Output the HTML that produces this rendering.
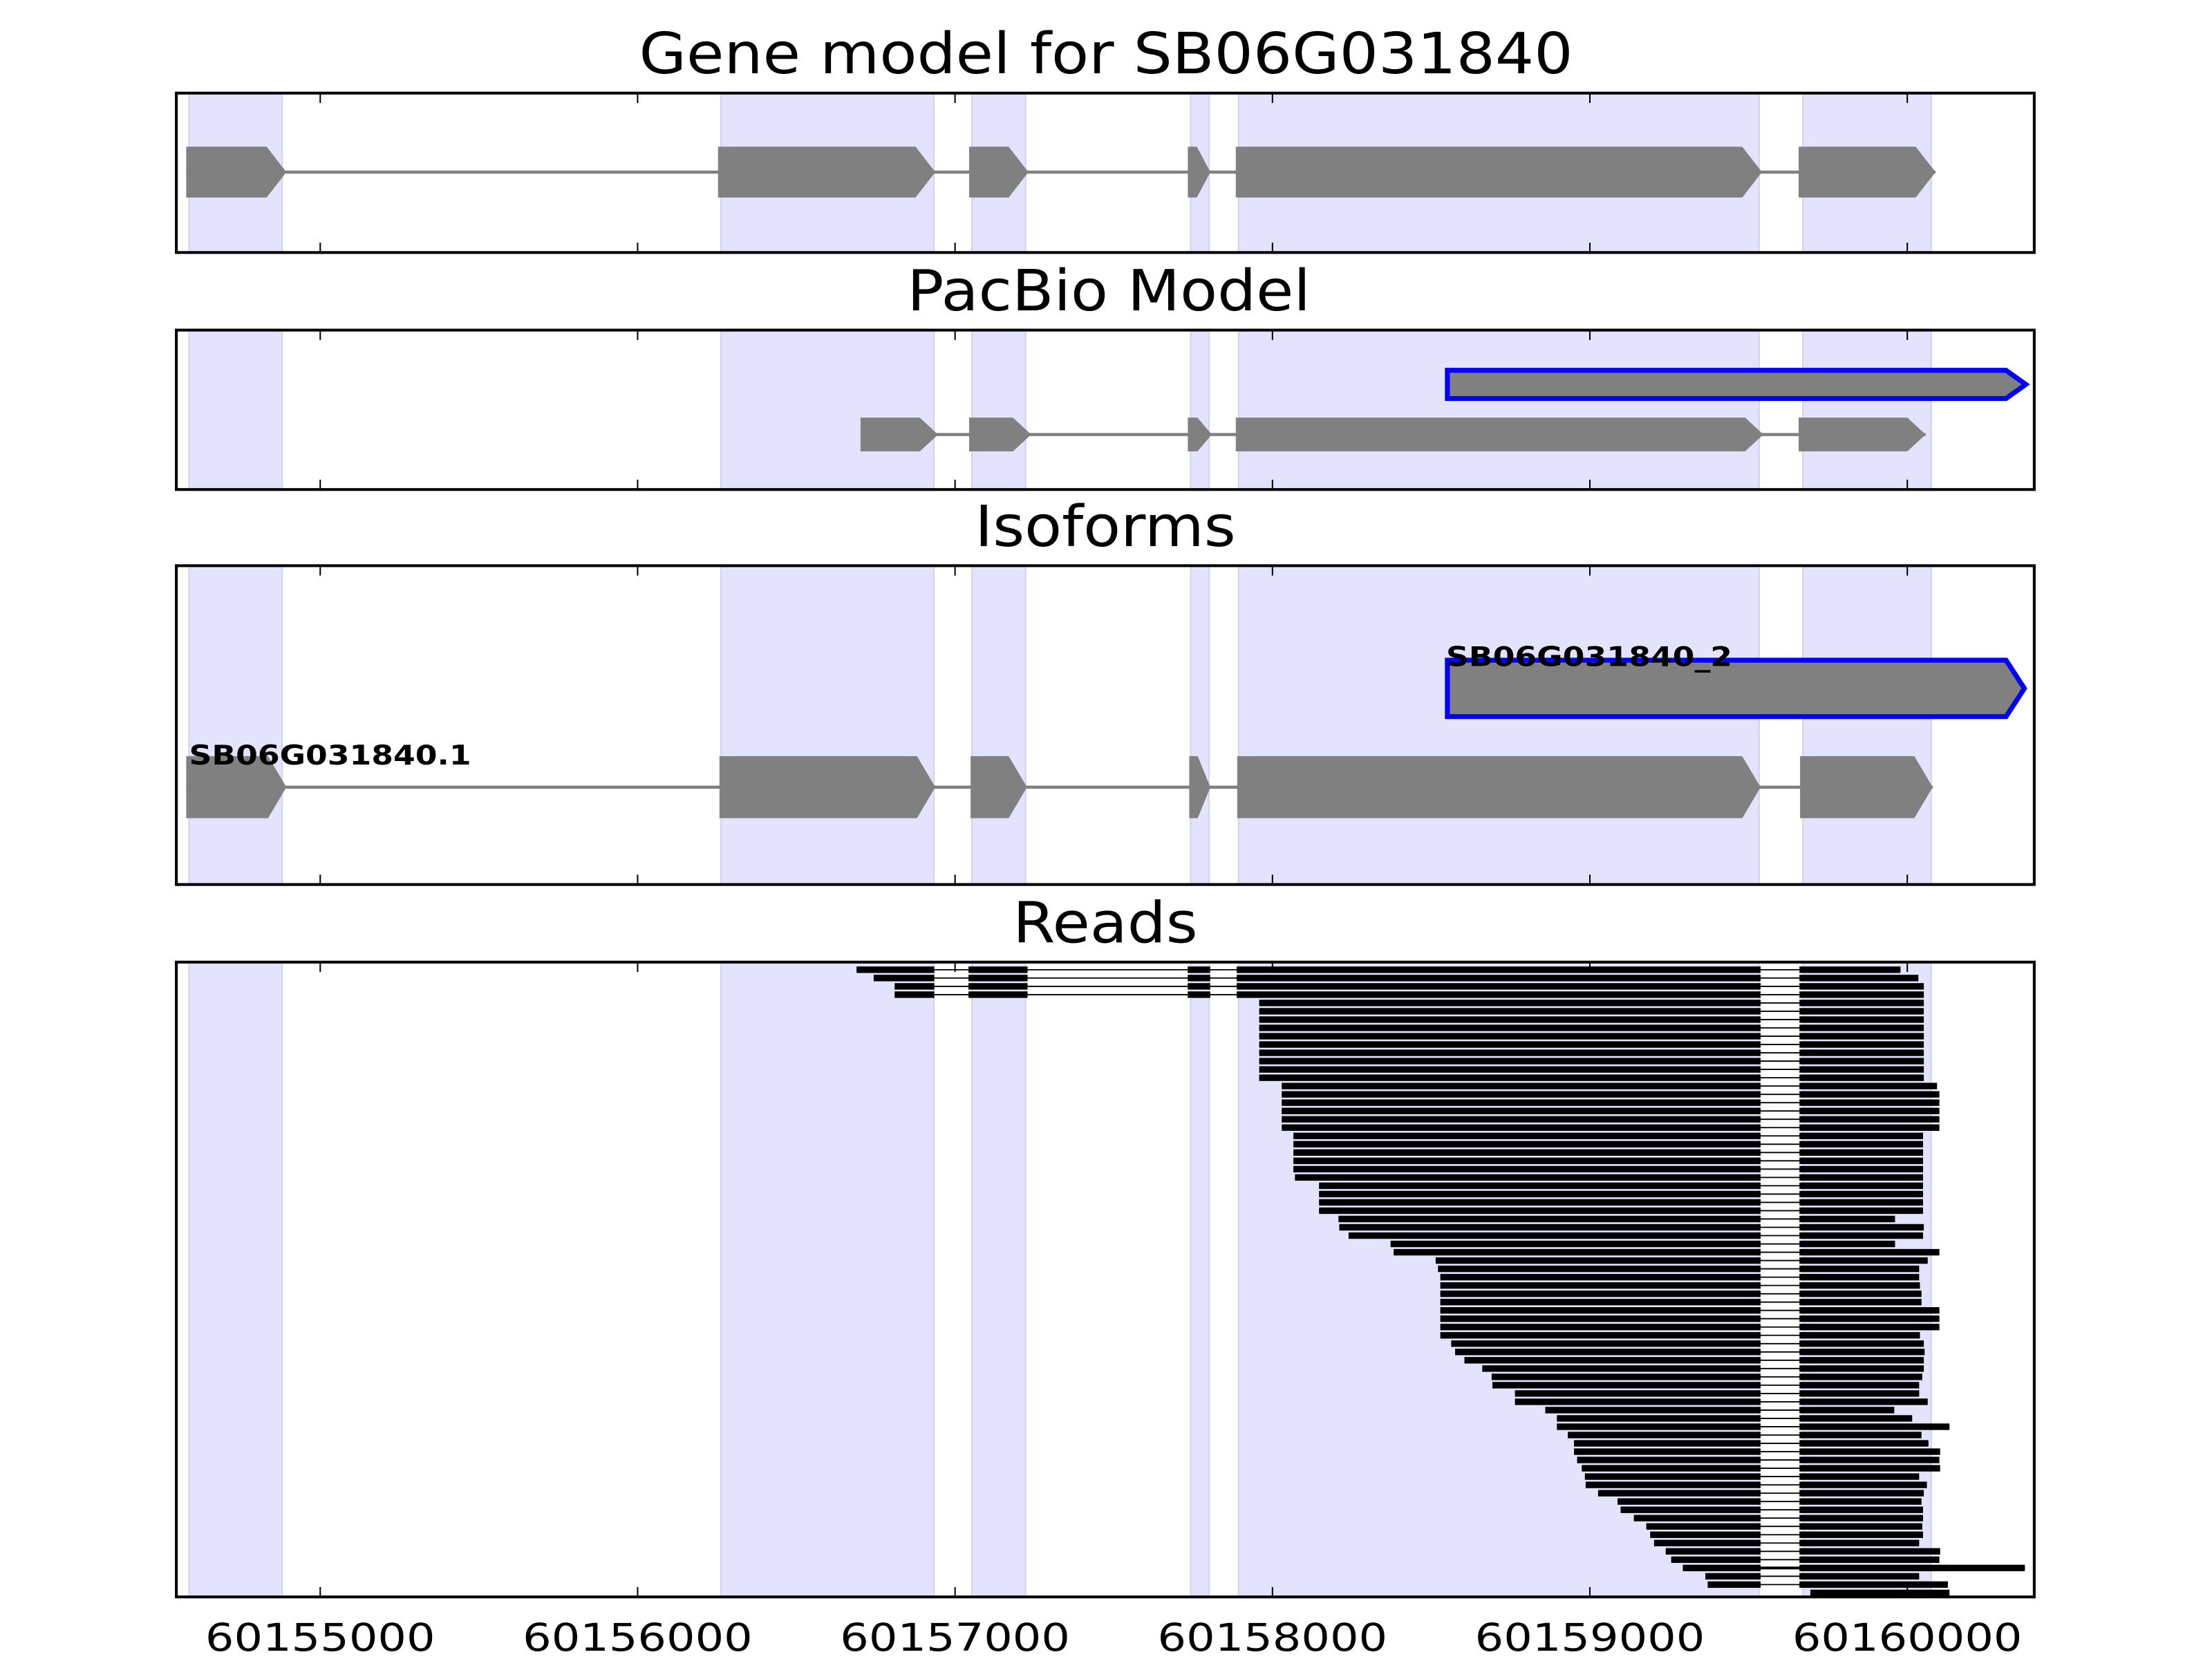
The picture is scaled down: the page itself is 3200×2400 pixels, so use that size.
<!DOCTYPE html>
<html><head><meta charset="utf-8"><style>
html,body{margin:0;padding:0;background:#fff;}
svg{display:block;}
text{font-family:"DejaVu Sans","Liberation Sans",sans-serif;}
</style></head><body>
<svg id="s" xmlns="http://www.w3.org/2000/svg" width="3200" height="2400" viewBox="0 0 1568 1176">
<rect width="1568" height="1176" fill="#fff"/>
<g id="g"></g>
<text x="784" y="52" font-size="40" text-anchor="middle" textLength="662" lengthAdjust="spacingAndGlyphs">Gene model for SB06G031840</text>
<text x="786" y="220" font-size="40" text-anchor="middle" textLength="286" lengthAdjust="spacingAndGlyphs">PacBio Model</text>
<text x="783.5" y="387" font-size="40" text-anchor="middle" textLength="185" lengthAdjust="spacingAndGlyphs">Isoforms</text>
<text x="783.5" y="668" font-size="40" text-anchor="middle" textLength="131" lengthAdjust="spacingAndGlyphs">Reads</text>
<text x="1025" y="472" font-size="19" font-weight="bold" textLength="203" lengthAdjust="spacingAndGlyphs">SB06G031840_2</text>
<text x="134" y="542" font-size="19" font-weight="bold" textLength="200" lengthAdjust="spacingAndGlyphs">SB06G031840.1</text>
</svg>
<script>
var NS="http://www.w3.org/2000/svg",G=document.getElementById('g');
function el(t,a){var e=document.createElementNS(NS,t);for(var k in a)e.setAttribute(k,a[k]);G.appendChild(e);return e;}
var panels=[[66,179],[234,347],[401,627],[682,1132]];
var L=125,R=1442;
var bands=[[134,200],[511,662],[689,727],[844,857],[878,1247],[1278,1369]];
panels.forEach(function(p){
  bands.forEach(function(b){el('rect',{x:b[0],y:p[0],width:b[1]-b[0],height:p[1]-p[0],fill:'#e3e3fd',stroke:'#d2d2ee','stroke-width':1});});
});
function arrow(x1,x2,yc,h,tip,fill,stroke,sw){
  var t=Math.min(tip,(x2-x1)*0.6);
  var pts=[[x1,yc-h/2],[x2-t,yc-h/2],[x2,yc],[x2-t,yc+h/2],[x1,yc+h/2]].map(function(q){return q.join(',')}).join(' ');
  var a={points:pts,fill:fill};
  if(stroke){a.stroke=stroke;a['stroke-width']=sw;}
  el('polygon',a);
}
function gene(ex,yc,h,tip){
  el('line',{x1:ex[0][0],x2:ex[ex.length-1][1],y1:yc,y2:yc,stroke:'#808080','stroke-width':2.2});
  ex.forEach(function(e){arrow(e[0],e[1],yc,h,tip,'#808080');});
}
gene([[132,203],[509,663],[687,729],[842,858],[876,1249],[1275,1372]],122,36,14);
arrow(1026,1436,272.5,20,14,'#808080','#0000ff',3.5);
gene([[610,665],[687,731],[842,859],[876,1250],[1275,1365]],308,24,13);
arrow(1026,1435,488,40,13,'#808080','#0000ff',3.5);
gene([[132,203],[510,663],[688,728],[843,858],[877,1248],[1276,1370]],558,44,13);
function p(z){return 586.8+z*0.551;}
var rows=[[37,1380,1],[59,1403,1],[86,1410,1],[86,1410,1]];
for(var i=0;i<10;i++)rows.push([555,1410]);
rows.push([584,1427]);for(i=0;i<5;i++)rows.push([584,1430]);
for(i=0;i<5;i++)rows.push([599,1409]);rows.push([601,1409]);
for(i=0;i<4;i++)rows.push([632,1409]);
rows=rows.concat([[657,1373],[658,1410],[670,1409],[724,1373],[728,1430],[782,1415],[785,1404],[788,1404],[788,1405],[788,1407],[788,1407],[788,1430],[788,1430],[788,1430],[788,1405],[802,1410],[807,1411],[819,1410],[842,1410],[854,1408],[855,1404],[884,1404],[884,1415],[923,1372],[938,1395],[938,1443],[952,1407],[960,1416],[960,1431],[964,1430],[970,1431],[974,1404],[975,1414],[991,1410],[1016,1407],[1020,1409],[1037,1409],[1053,1408],[1058,1409],[1063,1404],[1078,1431],[1085,1430],[1100,1540,2],[1129,1404],[1132,1441],[1264,1443]]);
var gap1=p(1200),gap2=p(1250);
rows.forEach(function(r,i){
  var y=687.4+i*5.89,h=4.6,s=p(r[0]),e=p(r[1]);
  function bar(a,b){if(b>a)el('rect',{x:a,y:y-h/2,width:b-a,height:h,fill:'#000'});}
  if(r[2]!==2 && s<gap1) el('line',{x1:s,x2:e,y1:y,y2:y,stroke:'#000','stroke-width':0.9});
  if(r[2]===2){bar(s,gap1);el('rect',{x:gap1,y:y-1,width:e-gap1,height:2,fill:'#000'});bar(gap2,p(1443));bar(p(1443),e);return;}
  if(r[2]===1){
    bar(s,p(137));bar(p(181),p(257));bar(p(463),p(492));bar(p(526),gap1);bar(gap2,e);
  } else {
    if(s<gap1){bar(s,gap1);bar(gap2,e);} else bar(s,e);
  }
});
var ticks=[227,452,677,902,1127,1352],labs=['60155000','60156000','60157000','60158000','60159000','60160000'];
panels.forEach(function(pp){
  ticks.forEach(function(t){
    el('line',{x1:t,x2:t,y1:pp[0],y2:pp[0]+7,stroke:'#000','stroke-width':1});
    el('line',{x1:t,x2:t,y1:pp[1],y2:pp[1]-7,stroke:'#000','stroke-width':1});
  });
  el('rect',{x:L,y:pp[0],width:R-L,height:pp[1]-pp[0],fill:'none',stroke:'#000','stroke-width':2});
});
ticks.forEach(function(t,i){
  var tx=el('text',{x:t,y:1170,'font-size':27,'text-anchor':'middle',textLength:163,lengthAdjust:'spacingAndGlyphs'});
  tx.textContent=labs[i];
});
</script>
</body></html>
